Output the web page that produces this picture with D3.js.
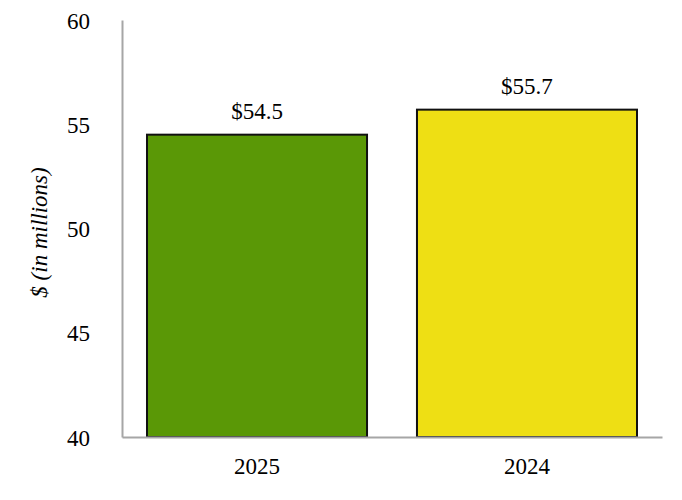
<!DOCTYPE html>
<html lang="en">
<head>
    <meta charset="utf-8">
    <title>D3 Bar chart</title>
    <style>
        body { margin: 0; background: #fff; }
        svg text { fill: #000; font-size: 23px; }
    </style>
</head>
<body>
<script src="https://d3js.org/d3.v7.min.js"></script>
<script>
    var categories = ["2025", "2024"];
    var values = [54.5, 55.7];
    var labels = ["$54.5", "$55.7"];
    var colors = ["#5a9806", "#eedf14"];
    var yTicks = [40, 45, 50, 55, 60];
    var fontFamily = "'Liberation Serif', 'DejaVu Serif', serif";

    var margin = {top: 20, right: 20, bottom: 63, left: 122},
        width = 682 - margin.left - margin.right,
        height = 500 - margin.top - margin.bottom;

    var x = d3.scaleBand()
        .domain(categories)
        .range([0, width])
        .paddingInner(0.185)
        .paddingOuter(0.0926);
    var y = d3.scaleLinear()
        .domain([40, 60])
        .range([height, 0]);

    var svg = d3.select("body").append("svg")
        .attr("width", 682)
        .attr("height", 500)
        .append("g")
        .attr("transform", "translate(" + margin.left + "," + margin.top + ")");

    // bars
    svg.selectAll(".bar")
        .data(values)
        .enter().append("rect")
        .attr("class", "bar")
        .attr("x", function(d, i) { return x(categories[i]); })
        .attr("width", x.bandwidth())
        .attr("y", function(d) { return y(d); })
        .attr("height", function(d) { return height - y(d); })
        .attr("fill", function(d, i) { return colors[i]; })
        .attr("stroke", "#111")
        .attr("stroke-width", 2);

    // value labels
    svg.selectAll(".val")
        .data(values)
        .enter().append("text")
        .attr("class", "val")
        .attr("x", function(d, i) { return x(categories[i]) + x.bandwidth() / 2; })
        .attr("y", function(d) { return y(d) - 16; })
        .attr("text-anchor", "middle")
        .text(function(d, i) { return labels[i]; });

    // y axis
    var yAxis = svg.append("g")
        .call(d3.axisLeft(y).tickValues(yTicks).tickSize(0).tickPadding(32));
    yAxis.select(".domain").attr("stroke", "#a6a6a6").attr("stroke-width", 2);
    yAxis.selectAll("text").attr("dy", "0.35em");

    // x axis
    var xAxis = svg.append("g")
        .attr("transform", "translate(0," + height + ")")
        .call(d3.axisBottom(x).tickSize(0).tickPadding(21));
    xAxis.select(".domain").attr("stroke", "#a6a6a6").attr("stroke-width", 2);

    // y label
    svg.append("text")
        .attr("transform", "translate(" + (-75) + "," + (height / 2 + 4) + ") rotate(-90)")
        .attr("text-anchor", "middle")
        .style("font-style", "italic")
        .text("$ (in millions)");

    d3.selectAll("svg text").style("font-family", fontFamily);
</script>
</body>
</html>
